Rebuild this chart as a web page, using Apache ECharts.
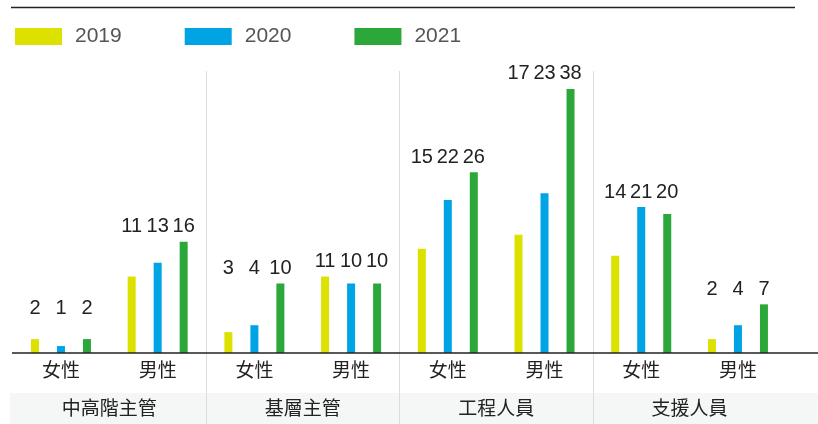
<!DOCTYPE html>
<html>
<head>
<meta charset="utf-8">
<script src="https://cdn.jsdelivr.net/npm/echarts@6/dist/echarts.min.js"></script>
<style>
  html, body { margin: 0; padding: 0; background: #fff; }
  #chart { width: 818px; height: 424px; }
</style>
</head>
<body>
<div id="chart"></div>
<script>
const categories = ['女性', '男性', '女性', '男性', '女性', '男性', '女性', '男性'];
const groups = ['中高階主管', '基層主管', '工程人員', '支援人員'];
const years = ['2019', '2020', '2021'];
const v2019 = [2, 11, 3, 11, 15, 17, 14, 2];
const v2020 = [1, 13, 4, 10, 22, 23, 21, 4];
const v2021 = [2, 16, 10, 10, 26, 38, 20, 7];
const colors = ['#dce100', '#00a4e4', '#2ca83a'];

const yearValues = [v2019, v2020, v2021];
// labels sit on a common line above the tallest bar of each trio
const groupMax = categories.map((c, i) => Math.max(v2019[i], v2020[i], v2021[i]));

const fontFamily = '"Liberation Sans", Arial, "Noto Sans CJK TC", sans-serif';

let series = [];
years.forEach((y, k) => {
    const vals = yearValues[k];
    series.push({
        name: y,
        type: 'bar',
        stack: 's' + y,
        barWidth: 8,
        barGap: '225%',
        itemStyle: { color: colors[k] },
        silent: true,
        data: vals
    });
    series.push({
        name: 'pad' + y,
        type: 'bar',
        stack: 's' + y,
        barWidth: 8,
        barGap: '225%',
        itemStyle: { color: 'rgba(0,0,0,0)' },
        silent: true,
        label: {
            show: true,
            position: 'top',
            distance: 5,
            color: '#222',
            fontSize: 20,
            fontFamily: fontFamily,
            formatter: p => vals[p.dataIndex]
        },
        data: groupMax.map((m, i) => i === 0 ? { value: m - vals[i], label: { distance: 21 } } : m - vals[i])
    });
});

let option = {
    animation: false,
    legend: {
        data: years,
        left: 15,
        top: 26,
        padding: 0,
        icon: 'rect',
        itemWidth: 47,
        itemHeight: 17,
        itemGap: 63,
        textStyle: { color: '#555', fontSize: 21, fontFamily: fontFamily, padding: [0, 0, 0, 8] }
    },
    grid: [
        { left: 12.6, right: 31.7, top: 75, bottom: 71 },
        { left: 12.6, right: 31.7, top: 71, bottom: 0 }
    ],
    xAxis: [
        {
            type: 'category',
            gridIndex: 0,
            data: categories,
            axisLine: { show: false },
            axisTick: { show: false },
            axisLabel: { color: '#222', fontSize: 19, margin: 9, fontFamily: fontFamily }
        },
        {
            type: 'category',
            gridIndex: 1,
            data: groups,
            axisLine: { show: false },
            axisTick: { show: false },
            splitLine: {
                show: true,
                showMinLine: false,
                showMaxLine: false,
                lineStyle: { color: '#dcdcdc', width: 1 }
            },
            axisLabel: { inside: true, color: '#222', fontSize: 19, margin: 5, fontFamily: fontFamily }
        }
    ],
    yAxis: [
        { type: 'value', gridIndex: 0, min: 0, max: 40, show: false },
        { type: 'value', gridIndex: 1, show: false }
    ],
    graphic: [
        {
            type: 'line',
            shape: { x1: 11, y1: 7.5, x2: 795, y2: 7.5 },
            style: { stroke: '#222', lineWidth: 1.5 }
        },
        {
            type: 'rect',
            z: -10,
            shape: { x: 10, y: 393, width: 808, height: 31 },
            style: { fill: '#f5f7f7' }
        },
        {
            type: 'line',
            z: 10,
            shape: { x1: 12, y1: 353, x2: 818, y2: 353 },
            style: { stroke: '#222', lineWidth: 1.5 }
        }
    ],
    series: series
};

let myChart = echarts.init(document.getElementById('chart'));
myChart.setOption(option);
</script>
</body>
</html>
